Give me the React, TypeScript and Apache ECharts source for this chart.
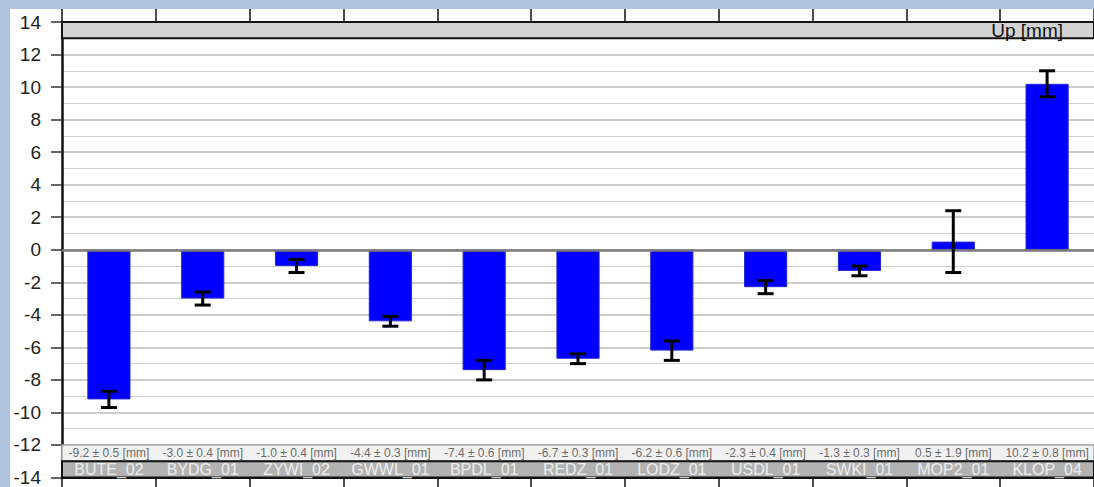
import React, { useEffect, useRef } from "react";
import * as echarts from "echarts";

// Station vertical displacement (Up component) with uncertainties
const stations = [
  "BUTE_02", "BYDG_01", "ZYWI_02", "GWWL_01", "BPDL_01", "REDZ_01",
  "LODZ_01", "USDL_01", "SWKI_01", "MOP2_01", "KLOP_04",
];
const upValues = [-9.2, -3.0, -1.0, -4.4, -7.4, -6.7, -6.2, -2.3, -1.3, 0.5, 10.2];
const upErrors = [0.5, 0.4, 0.4, 0.3, 0.6, 0.3, 0.6, 0.4, 0.3, 1.9, 0.8];
const yTicks = [-14, -12, -10, -8, -6, -4, -2, 0, 2, 4, 6, 8, 10, 12, 14];

const FONT = "'Liberation Sans', Arial, Helvetica, sans-serif";
const Y_MIN = yTicks[0];
const Y_MAX = yTicks[yTicks.length - 1];
const VALUE_ROW = Y_MIN + 1.5; // row holding "value ± error" text
const NAME_ROW = Y_MIN + 0.5; // row holding station names

const fmt = (v: number) => v.toFixed(1);

export default function App() {
  const ref = useRef<HTMLDivElement>(null);

  useEffect(() => {
    if (!ref.current) return;
    const chart = echarts.init(ref.current, null, { renderer: "svg" });

    const catAxisBase = {
      type: "category" as const,
      data: stations,
      boundaryGap: true,
      axisLine: { onZero: false, lineStyle: { color: "#111", width: 2 } },
      axisTick: { show: true, inside: false, length: 14, lineStyle: { color: "#111", width: 1.5 } },
      axisLabel: { show: false },
      splitLine: { show: false },
    };

    chart.setOption({
      animation: false,
      backgroundColor: "#ffffff",
      grid: { left: 52, right: -4, top: 13, bottom: 7, containLabel: false },
      xAxis: [
        { ...catAxisBase, position: "bottom" },
        { ...catAxisBase, position: "top" },
      ],
      yAxis: {
        type: "value",
        min: Y_MIN,
        max: Y_MAX,
        interval: 2,
        axisLine: { show: true, lineStyle: { color: "#111", width: 2.5 } },
        axisTick: { show: true, length: 11, lineStyle: { color: "#333", width: 1.5 } },
        axisLabel: { color: "#222", fontSize: 19, fontFamily: FONT, margin: 21 },
        splitLine: { show: true, lineStyle: { color: "#bdbdbd", width: 1.5 } },
        minorTick: { show: false, splitNumber: 2 },
        minorSplitLine: { show: true, lineStyle: { color: "#d0d0d0", width: 1.2 } },
      },
      graphic: [
        {
          type: "text",
          right: 31,
          top: 12,
          z: 100,
          style: { text: "Up [mm]", fill: "#111", font: `19px ${FONT}` },
        },
      ],
      series: [
        {
          type: "bar",
          data: upValues,
          barWidth: "46%",
          itemStyle: { color: "#0000ff", borderColor: "#2424d8", borderWidth: 1 },
          z: 3,
          markArea: {
            silent: true,
            data: [
              [
                { yAxis: Y_MAX - 1, itemStyle: { color: "#d4d4d4", borderColor: "#111", borderWidth: 2 } },
                { yAxis: Y_MAX },
              ],
              [
                { yAxis: VALUE_ROW + 0.5, itemStyle: { color: "#f1f1f1", borderColor: "#a8a8a8", borderWidth: 1.5 } },
                { yAxis: VALUE_ROW - 0.5 },
              ],
              [
                { yAxis: NAME_ROW + 0.5, itemStyle: { color: "#b2b2b2", borderColor: "#111", borderWidth: 2 } },
                { yAxis: NAME_ROW - 0.5 },
              ],
            ],
          },
          markLine: {
            silent: true,
            symbol: "none",
            label: { show: false },
            lineStyle: { color: "#7a7a7a", width: 2.5, type: "solid" },
            data: [{ yAxis: 0 }],
          },
        },
        {
          // error bars: value ± uncertainty
          type: "custom",
          z: 5,
          data: upValues.map((v, i) => [i, v - upErrors[i], v + upErrors[i]]),
          renderItem: (_params: any, api: any) => {
            const lo = api.coord([api.value(0), api.value(1)]);
            const hi = api.coord([api.value(0), api.value(2)]);
            const half = 8;
            const style = { stroke: "#000", lineWidth: 3 };
            return {
              type: "group",
              children: [
                { type: "line", shape: { x1: lo[0], y1: lo[1], x2: hi[0], y2: hi[1] }, style },
                { type: "line", shape: { x1: lo[0] - half, y1: lo[1], x2: lo[0] + half, y2: lo[1] }, style },
                { type: "line", shape: { x1: hi[0] - half, y1: hi[1], x2: hi[0] + half, y2: hi[1] }, style },
              ],
            };
          },
        },
        {
          // "value ± error [mm]" row
          type: "scatter",
          symbolSize: 0,
          z: 6,
          silent: true,
          data: stations.map((_s, i) => [i, VALUE_ROW]),
          label: {
            show: true,
            position: "inside",
            color: "#444",
            fontSize: 12,
            fontFamily: FONT,
            formatter: (p: any) =>
              `${fmt(upValues[p.dataIndex])} ± ${fmt(upErrors[p.dataIndex])} [mm]`,
          },
        },
        {
          // station name row
          type: "scatter",
          symbolSize: 0,
          z: 6,
          silent: true,
          data: stations.map((_s, i) => [i, NAME_ROW]),
          label: {
            show: true,
            position: "inside",
            color: "#ffffff",
            fontSize: 16,
            fontFamily: FONT,
            formatter: (p: any) => stations[p.dataIndex],
          },
        },
      ],
    });

    return () => chart.dispose();
  }, []);

  return (
    <div
      style={{
        position: "fixed",
        left: 0,
        top: 0,
        width: 1094,
        height: 487,
        background: "#afc3de",
        overflow: "hidden",
      }}
    >
      <div
        ref={ref}
        style={{ position: "absolute", left: 10, top: 9, width: 1084, height: 478 }}
      />
    </div>
  );
}
